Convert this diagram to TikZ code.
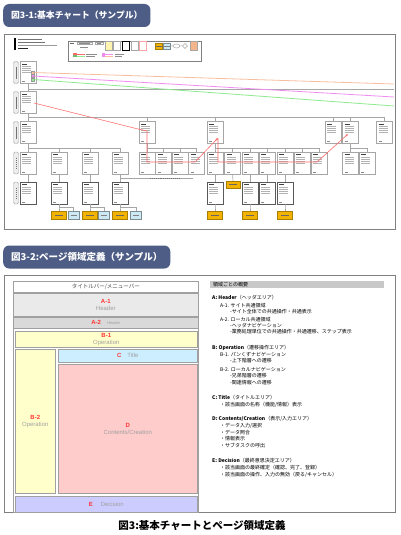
\documentclass[tikz,border=0pt]{standalone}
\usepackage{fontspec}
\setmainfont{Liberation Sans}
\newfontfamily\jpfont{Noto Sans CJK JP}
\usetikzlibrary{arrows.meta,positioning,calc,shadows}
\definecolor{figBadge}{HTML}{4E5D86}
\definecolor{figFrame}{HTML}{808080}
\definecolor{figLine}{HTML}{A6A6A6}
\definecolor{figRed}{HTML}{FF3434}
\definecolor{figMute}{HTML}{A0A0A0}
\definecolor{areaHead}{HTML}{EAEAEA}
\definecolor{areaSub}{HTML}{D9D9D9}
\definecolor{areaOp}{HTML}{FFFFCC}
\definecolor{areaTitle}{HTML}{CCEEFF}
\definecolor{areaBody}{HTML}{FFCCCC}
\definecolor{areaDecide}{HTML}{CCCCFF}
\definecolor{sumBar}{HTML}{C8C8C8}
\definecolor{chartAct}{HTML}{F2B200}
\definecolor{chartInfo}{HTML}{CDE9F5}
\definecolor{chartSalmon}{HTML}{F7BE9E}
\definecolor{chartPink}{HTML}{F28CF0}
\definecolor{chartGreen}{HTML}{8EEA8E}
\definecolor{chartPath}{HTML}{FF6A6A}
\definecolor{legendYellow}{HTML}{FFF4B0}
\definecolor{legendPeach}{HTML}{F4B48C}
\tikzset{
  figBadge/.style={
    fill=figBadge,
    rounded corners=6pt,
    text=white,
    font=\jpfont\bfseries\fontsize{9.3}{11}\selectfont,
    minimum height=23pt,
    inner xsep=8pt,
    anchor=west
  },
  figPanel/.style={
    draw=figFrame,
    line width=1.2pt,
    fill=white,
    inner sep=0pt,
    anchor=north west
  },
  chartPage/.style={
    draw=figLine,
    fill=white,
    line width=0.5pt,
    minimum width=16pt,
    minimum height=22pt,
    inner sep=0pt,
    path picture={
      \draw[black!75, line width=0.9pt]
        ([shift={(2pt,-2.5pt)}]path picture bounding box.north west) -- ++(5pt,0pt);
      \foreach \k in {5,7,9,11}
        \draw[black!30, line width=0.5pt]
          ([shift={(2pt,-\k pt)}]path picture bounding box.north west) -- ++(9pt,0pt);
      \draw[black!45, line width=0.6pt]
        ([shift={(2pt,2pt)}]path picture bounding box.south west) -- ++(3pt,0pt);
    }
  },
  chartDeep/.style={
    chartPage,
    draw=black!65,
    drop shadow={shadow xshift=1pt, shadow yshift=-1pt, fill=black!45, opacity=1}
  },
  chartTag/.style={
    draw=figLine,
    fill=black!7,
    rounded corners=1.5pt,
    minimum width=5pt,
    minimum height=22pt,
    inner sep=0pt,
    path picture={
      \draw[black!55, line width=1pt, dash pattern=on 1.3pt off 0.7pt]
        ([yshift=-6pt]path picture bounding box.center) -- ([yshift=6pt]path picture bounding box.center);
    }
  },
  chartAct/.style={
    draw=chartAct!70!black,
    fill=chartAct,
    line width=0.4pt,
    minimum width=15pt,
    minimum height=8pt,
    inner sep=0pt,
    path picture={
      \draw[black!60, line width=0.5pt]
        ([xshift=-4pt]path picture bounding box.center) -- ([xshift=4pt]path picture bounding box.center);
    }
  },
  chartInfo/.style={
    draw=chartInfo!60!black,
    fill=chartInfo,
    line width=0.4pt,
    minimum width=11pt,
    minimum height=8pt,
    inner sep=0pt,
    path picture={
      \draw[black!50, line width=0.5pt]
        ([xshift=-3pt]path picture bounding box.center) -- ([xshift=3pt]path picture bounding box.center);
    }
  },
  chartMark/.style={draw=black!40, line width=0.3pt, minimum size=3pt, inner sep=0pt},
  chartLink/.style={draw=figLine, line width=0.6pt},
  chartRoute/.style={draw=chartPath, line width=0.6pt},
  legendPage/.style={draw=figLine, fill=white, line width=0.5pt, minimum width=7pt, minimum height=9pt, inner sep=0pt},
  areaBox/.style={
    draw=figMute,
    line width=0.6pt,
    inner sep=0pt,
    anchor=north west,
    align=center,
    text=figMute,
    font=\fontsize{6}{7}\selectfont
  },
  sumLine/.style={anchor=west, inner sep=0pt, font=\jpfont\fontsize{5}{6}\selectfont}
}

\begin{document}
\begin{tikzpicture}[x=1pt, y=-1pt]
  \path[use as bounding box, fill=white] (0,0) rectangle (400,535);

  % 図3-1 chart
  \node[figBadge, font=\jpfont\bfseries\fontsize{8.8}{11}\selectfont] (badgeChart) at (3,15.5) {図3-1:基本チャート（サンプル）};
  \node[figPanel, minimum width=391pt, minimum height=195pt] (chart) at (4,34) {};

  % header block
  \node[fill=black, minimum width=2pt, minimum height=12pt, inner sep=0pt] (logoBar) at (15,44.5) {};
  \draw[black!55, line width=0.7pt] (18,39.5) -- (42,39.5) (18,42) -- (45,42);
  \draw[black!40, line width=0.4pt] (18,45.3) -- (57,45.3);
  \draw[black!85, line width=1pt] (18,48.5) -- (28,48.5);

  % legend
  \node[draw=figFrame, line width=0.8pt, fill=white, minimum width=133pt, minimum height=20pt,
    inner sep=0pt, anchor=north west] (legend) at (68,41) {};
  \draw[black!60, line width=0.6pt] (70,43.5) -- (74,43.5);
  \draw[figLine, line width=0.4pt] (77,41.8) rectangle (92,44.6) (95,41.8) rectangle (103,44.6);
  \draw[black!45, line width=0.5pt] (79,43.2) -- (90,43.2) (97,43.2) -- (101,43.2) (80,47.5) -- (88,47.5);
  \node[legendPage, fill=legendYellow] (lgPageA) at (108.5,46) {};
  \node[legendPage] (lgPageB) at (116.5,46) {};
  \node[legendPage, draw=black, line width=1pt] (lgPageC) at (125.5,46) {};
  \node[legendPage] (lgPageD) at (134.5,46) {};
  \node[legendPage, draw=chartPath!60] (lgPageE) at (143,46) {};
  \node[chartAct, minimum width=7pt, minimum height=6pt] (lgAct) at (158.5,46) {};
  \node[chartInfo, minimum width=7pt, minimum height=6pt] (lgInfo) at (167,46) {};
  \draw[figLine, line width=0.5pt] (171,46) -- (173,46) (176.5,46) ellipse [x radius=3.5, y radius=2] (180,46) -- (182,46);
  \draw[figLine, line width=0.5pt] (182.5,46) -- (185,43.5) -- (187.5,46) -- (185,48.5) -- cycle;
  \node[legendPage, fill=legendPeach] (lgPageF) at (193.5,46) {};
  \fill[chartPath] (73,53) rectangle (76.5,55);
  \fill[chartGreen!80!black] (73,55) rectangle (76.5,57);
  \draw[chartPath, line width=0.6pt] (77,54) -- (85,54);
  \draw[chartGreen, line width=0.6pt] (77,56) -- (85,56);
  \draw[black!45, line width=0.5pt] (86,54) -- (97,54) (86,56.5) -- (95,56.5);
  \fill[chartPink] (102,53) rectangle (105,57);
  \draw[chartPink, line width=0.6pt] (105,54) -- (113,54);
  \draw[chartSalmon, line width=0.6pt] (105,56) -- (113,56);
  \draw[black!45, line width=0.5pt] (115,54) -- (124,54) (115,56.5) -- (122,56.5);

  % row tags
  \foreach \y [count=\i] in {72.5,102.5,132.5,163,193}
    \node[chartTag] (tag\i) at (16,\y) {};

  % pages
  \foreach \n/\x/\y in {r1a/28/72.5, r2a/28/102.5,
      r3a/28/132.5, r3b/147/132.5, r3c/215/132.5, r3d/333/132.5, r3e/350.5/132.5, r3f/384.5/132.5,
      r4a/28/163, r4b/59/163, r4c/90/163, r4d/120/163, r4e/147/163, r4f/163.5/163, r4g/180/163,
      r4h/196.5/163, r4i/215/163, r4j/232.5/163, r4k/250/163, r4l/267/163, r4m/285/163,
      r4n/302/163, r4o/319/163, r4p/350.5/163, r4q/367/163}
    \node[chartPage] (\n) at (\x,\y) {};
  \foreach \n/\x in {r5a/28, r5b/59, r5c/90, r5d/120, r5e/215, r5f/250, r5g/267, r5h/285}
    \node[chartDeep] (\n) at (\x,193) {};
  \node[chartAct, minimum width=14pt, minimum height=7pt] (act5) at (233,184.5) {};
  \foreach \n/\x in {act6a/59, act6b/90, act6c/120, act6d/215, act6e/250, act6f/285}
    \node[chartAct] (\n) at (\x,215) {};
  \foreach \n/\x in {info6a/73.5, info6b/104, info6c/136}
    \node[chartInfo] (\n) at (\x,215) {};

  % tree links
  \coordinate (busTop) at (394,89);
  \coordinate (busMid) at (0,117);
  \coordinate (busLow) at (0,148);
  \coordinate (busFoot) at (0,207.5);
  \coordinate (noteEnd) at (193,178);
  \draw[chartLink] (r1a) -- (r2a);
  \draw[chartLink] (r1a.south |- busTop) -- (busTop);
  \draw[chartLink] (r2a.south) -- (r2a.south |- busMid) -- (r3f.north |- busMid) -- (r3f.north);
  \foreach \n in {r3a,r3b,r3c,r3d,r3e}
    \draw[chartLink] (\n.north |- busMid) -- (\n.north);
  \foreach \p/\c in {r3a/r4a,r3a/r4b,r3a/r4c,r3a/r4d,r3b/r4e,r3b/r4f,r3b/r4g,r3b/r4h,
      r3c/r4i,r3c/r4j,r3c/r4k,r3c/r4l,r3c/r4m,r3c/r4n,r3c/r4o,r3e/r4p,r3e/r4q}
    \draw[chartLink] (\p.south) -- (\p.south |- busLow) -| (\c.north);
  \foreach \p/\c in {r4a/r5a,r4b/r5b,r4c/r5c,r4d/r5d,r4i/r5e,r4j/act5,r4k/r5f,r4l/r5g,r4m/r5h}
    \draw[chartLink] (\p.south) -- (\c.north);
  \foreach \p/\c in {r5b/act6a,r5b/info6a,r5c/act6b,r5c/info6b,r5d/act6c,r5d/info6c,
      r5e/act6d,r5f/act6e,r5h/act6f}
    \draw[chartLink] (\p.south) -- (\p.south |- busFoot) -| (\c.north);
  \draw[chartLink] (r4d.south |- noteEnd) -- (noteEnd);
  \draw[black!55, line width=0.9pt, dash pattern=on 0.9pt off 1pt] (150,178) -- (180,178);

  % colored links from the top page
  \node[chartMark, fill=chartSalmon] (markO) at (33,72.5) {};
  \node[chartMark, fill=chartPink] (markM) at (33,76) {};
  \node[chartMark, fill=chartGreen] (markG) at (33,79.5) {};
  \coordinate (endO) at (394,84);
  \coordinate (endM) at (394,97);
  \coordinate (endG) at (394,106);
  \draw[chartSalmon, line width=0.8pt] (markO) -- (endO);
  \draw[chartPink, line width=0.8pt] (markM) -- (endM);
  \draw[chartGreen, line width=0.8pt] (markG) -- (endG);

  % red route
  \coordinate (rtA) at (34,103);
  \coordinate (rtB) at (138,129);
  \coordinate (rtC) at (147,131);
  \coordinate (rtD) at (147,162);
  \coordinate (rtE) at (195,162);
  \coordinate (rtF) at (218,138);
  \coordinate (rtG) at (218,162);
  \coordinate (rtH) at (317,162);
  \coordinate (rtI) at (348,134);
  \draw[chartRoute, -{Latex[length=2.5pt,width=2.5pt]}] (rtA) -- (rtB) -- (rtC) -- (rtD) -- (rtE) -- (rtF);
  \draw[chartRoute, -{Latex[length=2.5pt,width=2.5pt]}] (rtF) -- (rtG) -- (rtH) -- (rtI);

  % 図3-2 page areas
  \node[figBadge, font=\jpfont\bfseries\fontsize{9.5}{11}\selectfont] (badgeArea) at (3,257) {図3-2:ページ領域定義（サンプル）};
  \node[figPanel, minimum width=391pt, minimum height=237pt] (areas) at (4,275) {};

  \node[areaBox, fill=white, minimum width=185pt, minimum height=231pt] (layout) at (13,281) {};
  \node[areaBox, fill=white, text=black!70, font=\jpfont\fontsize{5.5}{6.5}\selectfont,
    minimum width=185pt, minimum height=11pt] (titleBar) at (13,281) {タイトルバー/メニューバー};
  \node[areaBox, fill=areaHead, minimum width=185pt, minimum height=23pt] (hdrA) at (13,293)
    {\textcolor{figRed}{\bfseries A-1}\\Header};
  \node[areaBox, fill=areaSub, minimum width=185pt, minimum height=11pt] (hdrB) at (13,317)
    {\textcolor{figRed}{\bfseries A-2}\hspace{6pt}{\fontsize{4}{5}\selectfont Header}};
  \node[areaBox, fill=areaOp, minimum width=182pt, minimum height=16pt] (opTop) at (15,331)
    {\textcolor{figRed}{\bfseries B-1}\\Operation};
  \node[areaBox, fill=areaOp, minimum width=40pt, minimum height=144pt] (opSide) at (15,349)
    {\textcolor{figRed}{\bfseries B-2}\\Operation};
  \node[areaBox, fill=areaTitle, minimum width=139pt, minimum height=13pt] (pgTitle) at (58,349)
    {\textcolor{figRed}{\bfseries C}\hspace{6pt}Title};
  \node[areaBox, fill=areaBody, minimum width=139pt, minimum height=129pt] (pgBody) at (58,364)
    {\textcolor{figRed}{\bfseries D}\\Contents/Creation};
  \node[areaBox, fill=areaDecide, minimum width=182pt, minimum height=16pt] (pgDecide) at (15,496)
    {\textcolor{figRed}{\bfseries E}\hspace{8pt}Decision};

  % area summary
  \node[fill=sumBar, minimum width=174pt, minimum height=7pt, inner sep=0pt, anchor=north west] (sumHead) at (210,281) {};
  \node[sumLine] (sumTitle) at (213,284.5) {領域ごとの概要};
  \foreach \x/\y/\t [count=\i] in {
      212/298/{\textbf{A: Header}（ヘッダエリア）},
      220/305.5/{A-1. サイト共通領域},
      230/311.5/{-サイト全体での共通操作・共通表示},
      220/320/{A-2. ローカル共通領域},
      230/326/{-ヘッダナビゲーション},
      230/331.5/{-業務処理単位での共通操作・共通遷移、ステップ表示},
      212/348/{\textbf{B: Operation}（遷移操作エリア）},
      220/355/{B-1. パンくずナビゲーション},
      230/361/{-上下階層への遷移},
      220/369.5/{B-2. ローカルナビゲーション},
      230/376/{-兄弟階層の遷移},
      230/382.5/{-関連情報への遷移},
      212/398/{\textbf{C: Title}（タイトルエリア）},
      220/405/{・該当画面の名称（機能/情報）表示},
      212/419/{\textbf{D: Contents/Creation}（表示/入力エリア）},
      220/426/{・データ入力/選択},
      220/432.5/{・データ照合},
      220/439/{・情報表示},
      220/446/{・サブタスクの呼出},
      212/461/{\textbf{E: Decision}（最終意思決定エリア）},
      220/468/{・該当画面の最終確定（確認、完了、登録）},
      220/475/{・該当画面の操作、入力の無効（戻る/キャンセル）}}
    \node[sumLine] (sum\i) at (\x,\y) {\t};

  \node[font=\jpfont\bfseries\fontsize{10.5}{12}\selectfont] (caption) at (202,526) {図3:基本チャートとページ領域定義};
\end{tikzpicture}
\end{document}
